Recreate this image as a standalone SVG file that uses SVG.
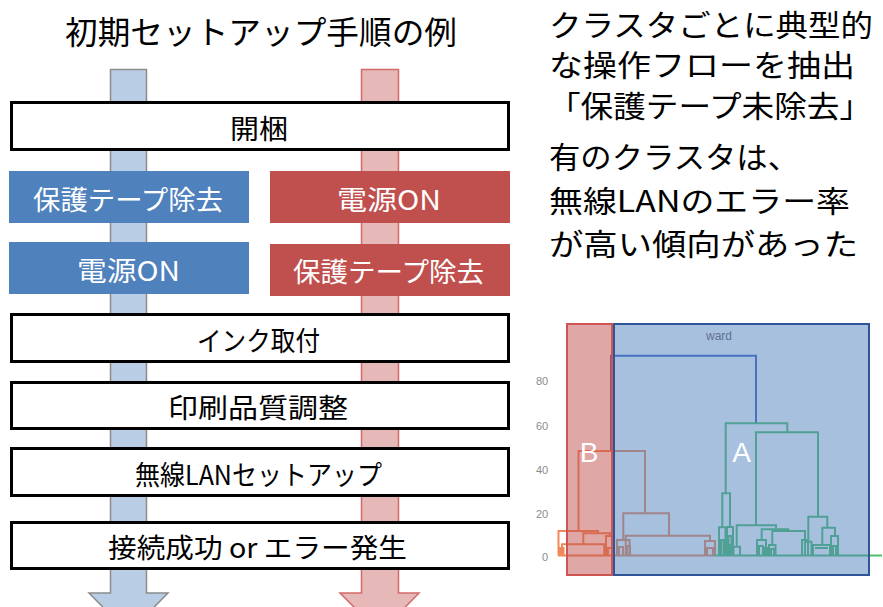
<svg xmlns="http://www.w3.org/2000/svg" width="883" height="607" viewBox="0 0 883 607">
<style>
.jp{font-family:"Noto Sans CJK JP","Noto Sans",sans-serif;}
.box{fill:#ffffff;stroke:#000000;stroke-width:3;}
.bt{font-size:27px;fill:#000000;text-anchor:middle;dominant-baseline:central;}
.wt{font-size:27px;fill:#ffffff;text-anchor:middle;dominant-baseline:central;}
.rt{font-size:30px;fill:#000000;dominant-baseline:central;}
.dB{fill:none;stroke:#3d65bf;stroke-width:2;}
.dO{fill:none;stroke:#f08858;stroke-width:2;}
.dT{fill:none;stroke:#51bf6f;stroke-width:2;}
.ax{font-family:"Liberation Sans",Arial,sans-serif;font-size:11px;fill:#8a8a8a;text-anchor:middle;dominant-baseline:central;}
</style>
<rect width="883" height="607" fill="#ffffff"/>

<text class="jp" x="261" y="30" font-size="32" text-anchor="middle" dominant-baseline="central" textLength="392" lengthAdjust="spacingAndGlyphs">初期セットアップ手順の例</text>

<g id="connectors">
  <polygon points="110.5,69.5 146.5,69.5 146.5,593 168,593 128.5,633 89,593 110.5,593" fill="#b9cde5" stroke="#8c8c8c" stroke-width="1.5"/>
  <polygon points="361.5,69.5 398.5,69.5 398.5,593 419,593 380,633 340,593 361.5,593" fill="#e6b9b8" stroke="#d46a68" stroke-width="1.5"/>
</g>

<g id="node-kaikon">
  <rect class="box" x="11.5" y="102.5" width="497" height="47"/>
  <text class="jp bt" x="259" y="127" textLength="58" lengthAdjust="spacingAndGlyphs">開梱</text>
</g>
<g id="node-blue-tape">
  <rect x="9" y="171" width="240" height="52" fill="#4f81bd"/>
  <text class="jp wt" x="128" y="198" textLength="190" lengthAdjust="spacingAndGlyphs">保護テープ除去</text>
</g>
<g id="node-red-power">
  <rect x="270" y="171" width="240" height="52" fill="#c0504d"/>
  <text class="jp wt" x="389" y="198" textLength="104" lengthAdjust="spacingAndGlyphs">電源ON</text>
</g>
<g id="node-blue-power">
  <rect x="9" y="242" width="240" height="52" fill="#4f81bd"/>
  <text class="jp wt" x="128.5" y="269" textLength="103" lengthAdjust="spacingAndGlyphs">電源ON</text>
</g>
<g id="node-red-tape">
  <rect x="270" y="244" width="240" height="52" fill="#c0504d"/>
  <text class="jp wt" x="388.5" y="270.5" textLength="191" lengthAdjust="spacingAndGlyphs">保護テープ除去</text>
</g>
<g id="node-ink">
  <rect class="box" x="11.5" y="314.5" width="497" height="47"/>
  <text class="jp bt" x="258.5" y="339" textLength="123" lengthAdjust="spacingAndGlyphs">インク取付</text>
</g>
<g id="node-print">
  <rect class="box" x="11.5" y="382.5" width="497" height="46"/>
  <text class="jp bt" x="258" y="406.5" textLength="180" lengthAdjust="spacingAndGlyphs">印刷品質調整</text>
</g>
<g id="node-wlan">
  <rect class="box" x="11.5" y="448.5" width="497" height="47"/>
  <text class="jp bt" x="258.5" y="473" textLength="247" lengthAdjust="spacingAndGlyphs">無線LANセットアップ</text>
</g>
<g id="node-result">
  <rect class="box" x="11.5" y="522.5" width="497" height="46"/>
  <text class="jp bt" x="257.5" y="546.5" textLength="299" lengthAdjust="spacingAndGlyphs">接続成功 or エラー発生</text>
</g>

<g id="note">
  <text class="jp rt" x="549" y="22.5" textLength="324" lengthAdjust="spacingAndGlyphs">クラスタごとに典型的</text>
  <text class="jp rt" x="549" y="63" textLength="306" lengthAdjust="spacingAndGlyphs">な操作フローを抽出</text>
  <text class="jp rt" x="548" y="104" textLength="324" lengthAdjust="spacingAndGlyphs">「保護テープ未除去」</text>
  <text class="jp rt" x="549" y="155" textLength="250" lengthAdjust="spacingAndGlyphs">有のクラスタは、</text>
  <text class="jp rt" x="549" y="198.5" textLength="301" lengthAdjust="spacingAndGlyphs">無線LANのエラー率</text>
  <text class="jp rt" x="549" y="242" textLength="309" lengthAdjust="spacingAndGlyphs">が高い傾向があった</text>
</g>

<g id="dendrogram">
  <text class="ax" x="542" y="381">80</text>
  <text class="ax" x="542" y="426">60</text>
  <text class="ax" x="542" y="470">40</text>
  <text class="ax" x="542" y="514">20</text>
  <text class="ax" x="545" y="557">0</text>

  <path class="dB" d="M611,451 V355.7 H756 V423.3"/>

  <path class="dO" d="M578.5,531 V451 H645 V513.3
    M558.5,555.5 V531 H598 V533.3
    M583.3,544.3 V533.3 H610 V536
    M562,555.5 V544.3 H604.3 V555.5
    M560,555.5 V548 H563.5 V555.5
    M606,555.5 V536 H614 V555.5
    M608,555.5 V548 H612 V555.5
    M623.3,540 V513.3 H669 V535.7
    M617,555.5 V540 H629.5 V555.5
    M619,555.5 V547 H623 V555.5
    M625.7,555.5 V535.7 H710 V541
    M627,555.5 V546 H630 V555.5
    M705,555.5 V541 H715 V555.5
    M707,555.5 V548 H713 V555.5
    M558,555.5 H714"/>

  <path class="dT" d="M725.7,493.3 V423.3 H787.3 V432.3
    M756,525.3 V432.3 H818 V516.7
    M722.3,527.3 V493.3 H730 V527
    M719,555.5 V527.3 H725.5 V555.5
    M727,555.5 V527 H733 V555.5
    M721,555.5 V540 H723.5 V555.5
    M728.5,555.5 V536 H731.5 V555.5
    M724,555.5 V546 H726.5 V555.5
    M729.5,555.5 V545 H732 V555.5
    M736.7,546.7 V525.3 H776 V529.3
    M733.5,555.5 V546.7 H740 V555.5
    M761.7,540 V529.3 H788.3 V531
    M757,555.5 V540 H766 V555.5
    M759,555.5 V546 H763 V555.5
    M764,555.5 V548 H768 V555.5
    M772.3,545 V531 H805 V540
    M769,555.5 V545 H775.5 V555.5
    M771,555.5 V549 H774 V555.5
    M802,555.5 V540 H808 V555.5
    M808.3,541.7 V516.7 H827.3 V527.7
    M805,555.5 V541.7 H811.5 V555.5
    M822.3,545 V527.7 H835 V536
    M813,555.5 V545 H830 V555.5
    M815,548 H828
    M831,555.5 V536 H838 V555.5
    M833,555.5 V546 H836 V555.5
    M714,555.5 H882"/>

  <rect x="567" y="324" width="45" height="251" fill="#c0504d" fill-opacity="0.5" stroke="#cf5553" stroke-width="2"/>
  <rect x="614" y="324" width="255" height="251" fill="#4f81bd" fill-opacity="0.5" stroke="#2f5597" stroke-width="2"/>

  <text x="719" y="336" font-family="Liberation Sans,Arial,sans-serif" font-size="12" fill="#5f7090" text-anchor="middle" dominant-baseline="central">ward</text>
  <text x="589" y="452" font-family="Liberation Sans,Arial,sans-serif" font-size="28" fill="#ffffff" text-anchor="middle" dominant-baseline="central">B</text>
  <text x="741.5" y="452" font-family="Liberation Sans,Arial,sans-serif" font-size="28" fill="#ffffff" text-anchor="middle" dominant-baseline="central">A</text>
</g>
</svg>
